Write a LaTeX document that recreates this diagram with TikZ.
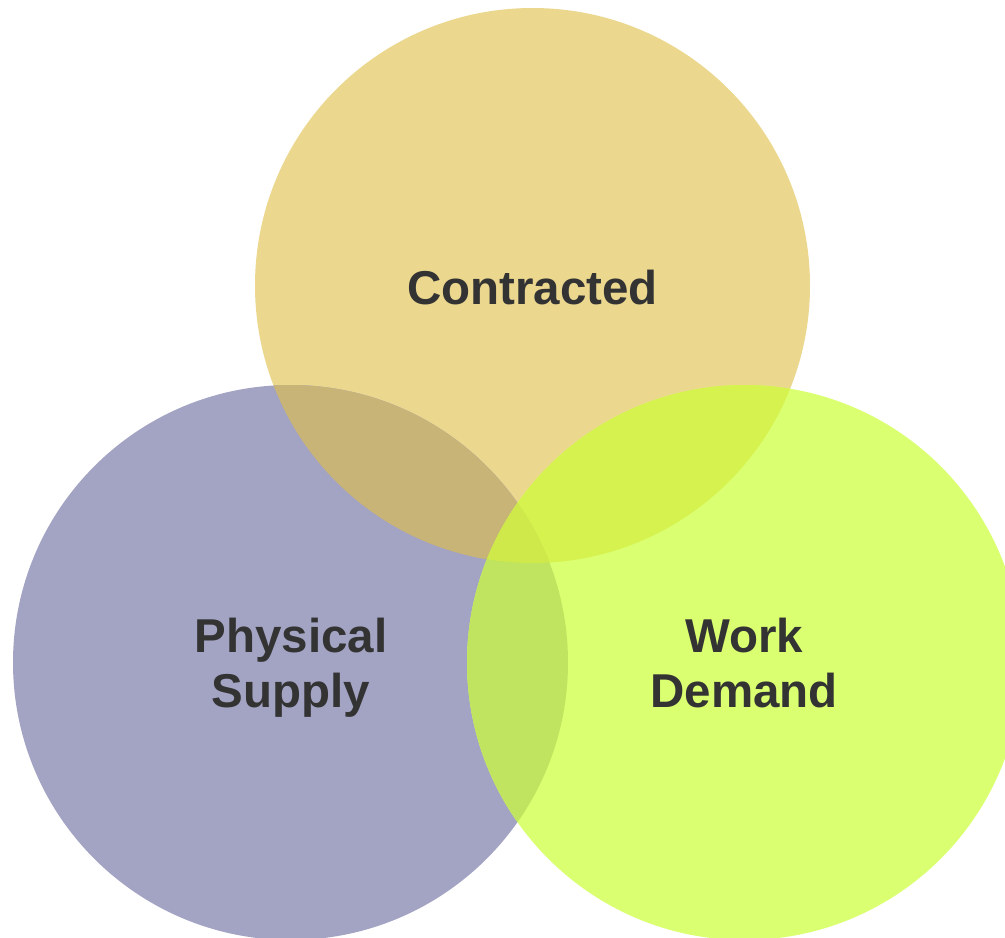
\documentclass[tikz,border=0pt]{standalone}
\usepackage{fontspec}
\setmainfont{Liberation Sans}
\definecolor{cT}{HTML}{EBD78E}
\definecolor{cL}{HTML}{A3A3C3}
\definecolor{cR}{HTML}{DAFF70}
\definecolor{cTL}{HTML}{C8B476}
\definecolor{cTR}{HTML}{D6F24E}
\definecolor{cLR}{HTML}{C0E460}
\definecolor{cTLR}{HTML}{CFE84A}
\definecolor{txt}{HTML}{333333}
\tikzset{lbl/.style={text=txt,align=center,font=\fontsize{47.5}{55}\selectfont\bfseries,inner sep=0pt}}
\begin{document}
\begin{tikzpicture}[x=1pt,y=-1pt]
\useasboundingbox (0,0) rectangle (1005,938);
\clip (0,0) rectangle (1005,938);
\def\r{277.5}
\coordinate (T) at (532.5,285.5);
\coordinate (L) at (290.5,662.5);
\coordinate (R) at (744.5,662.5);
\fill[cT] (T) circle (\r);
\fill[cL] (L) circle (\r);
\fill[cR] (R) circle (\r);
\begin{scope}\clip (T) circle (\r); \fill[cTL] (L) circle (\r);\end{scope}
\begin{scope}\clip (T) circle (\r); \fill[cTR] (R) circle (\r);\end{scope}
\begin{scope}\clip (L) circle (\r); \fill[cLR] (R) circle (\r);\end{scope}
\begin{scope}\clip (T) circle (\r); \clip (L) circle (\r); \fill[cTLR] (R) circle (\r);\end{scope}
\node[lbl] (contracted) at (532.5,287.5) {Contracted};
\node[lbl] (physical) at (291,668) {Physical\\Supply};
\node[lbl] (work) at (744,663) {Work\\Demand};
\end{tikzpicture}
\end{document}
